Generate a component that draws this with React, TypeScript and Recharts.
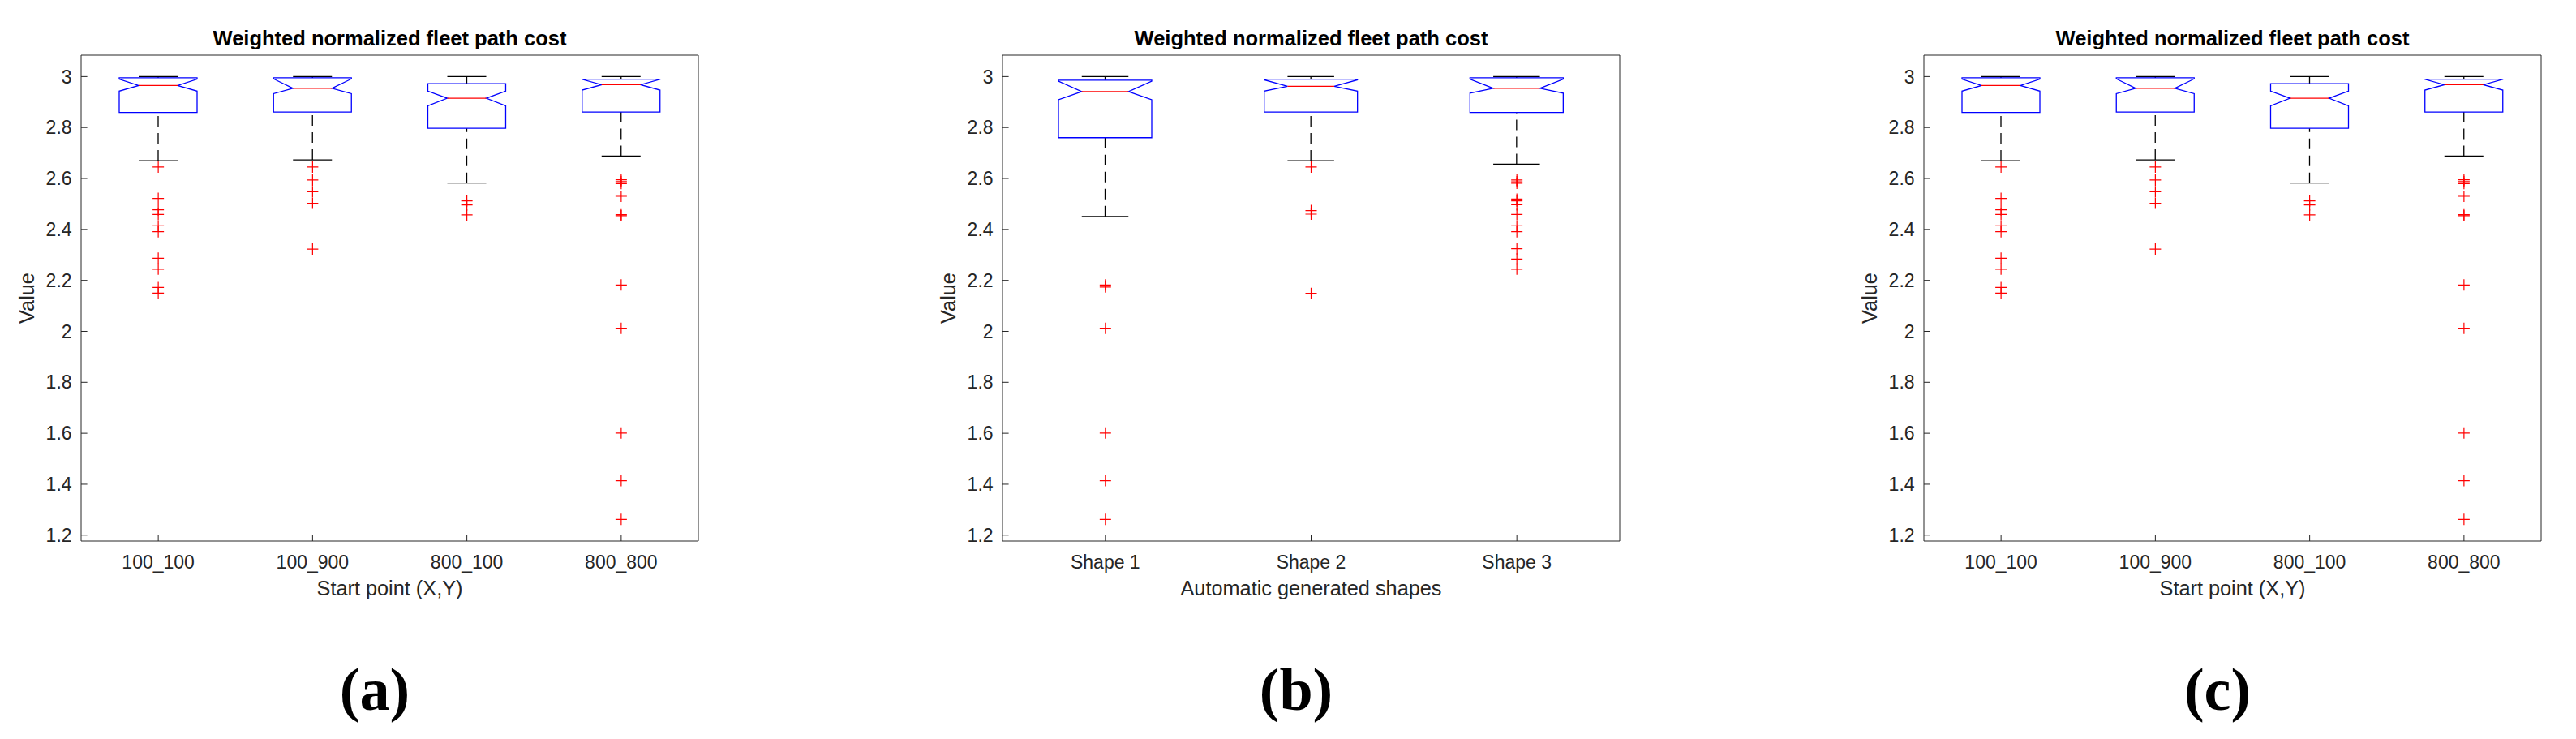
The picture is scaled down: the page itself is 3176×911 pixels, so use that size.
import React from "react";
import { ComposedChart, Bar, Scatter, XAxis, YAxis } from "recharts";

const TITLE = "Weighted normalized fleet path cost";
const Y_LABEL = "Value";
const Y_TICKS = [1.2, 1.4, 1.6, 1.8, 2, 2.2, 2.4, 2.6, 2.8, 3];
const Y_DOMAIN = [1.177, 3.084];

// panels (a) and (c): start point
const START_LABEL = "Start point (X,Y)";
const START_CATS = ["100_100", "100_900", "800_100", "800_800"];
const START_UPPER = [3.0, 3.0, 3.0, 3.0];
const START_Q3 = [2.995, 2.995, 2.972, 2.99];
const START_NOTCH_HI = [2.99, 2.991, 2.943, 2.989];
const START_MEDIAN = [2.965, 2.954, 2.915, 2.968];
const START_NOTCH_LO = [2.943, 2.933, 2.885, 2.947];
const START_Q1 = [2.859, 2.861, 2.797, 2.861];
const START_LOWER = [2.67, 2.673, 2.582, 2.688];
const START_OUTLIERS = [
  [2.645, 2.522, 2.477, 2.459, 2.414, 2.391, 2.287, 2.244, 2.172, 2.15],
  [2.645, 2.594, 2.548, 2.503, 2.323],
  [2.512, 2.496, 2.457],
  [2.595, 2.588, 2.58, 2.53, 2.458, 2.454, 2.182, 2.012, 1.601, 1.414, 1.262],
];

// panel (b): shapes
const SHAPE_LABEL = "Automatic generated shapes";
const SHAPE_CATS = ["Shape 1", "Shape 2", "Shape 3"];
const SHAPE_UPPER = [3.0, 3.0, 3.0];
const SHAPE_Q3 = [2.986, 2.99, 2.995];
const SHAPE_NOTCH_HI = [2.982, 2.987, 2.99];
const SHAPE_MEDIAN = [2.941, 2.962, 2.954];
const SHAPE_NOTCH_LO = [2.909, 2.943, 2.935];
const SHAPE_Q1 = [2.76, 2.861, 2.859];
const SHAPE_LOWER = [2.451, 2.67, 2.656];
const SHAPE_OUTLIERS = [
  [2.182, 2.174, 2.012, 1.601, 1.414, 1.262],
  [2.645, 2.474, 2.46, 2.149],
  [2.594, 2.587, 2.581, 2.519, 2.512, 2.497, 2.459, 2.414, 2.391, 2.324, 2.284, 2.244],
];

const AXIS = "#262626";

function buildBoxes(cats, upper, q3, notchHi, median, notchLo, q1, lower) {
  return cats.map((name, i) => ({
    name,
    upper: upper[i],
    q3: q3[i],
    notchHi: notchHi[i],
    median: median[i],
    notchLo: notchLo[i],
    q1: q1[i],
    lower: lower[i],
  }));
}

function buildOutliers(cats, outliers) {
  return cats.flatMap((name, i) => outliers[i].map((v) => ({ name, v })));
}

const startBoxes = buildBoxes(START_CATS, START_UPPER, START_Q3, START_NOTCH_HI, START_MEDIAN, START_NOTCH_LO, START_Q1, START_LOWER);
const startOutliers = buildOutliers(START_CATS, START_OUTLIERS);
const shapeBoxes = buildBoxes(SHAPE_CATS, SHAPE_UPPER, SHAPE_Q3, SHAPE_NOTCH_HI, SHAPE_MEDIAN, SHAPE_NOTCH_LO, SHAPE_Q1, SHAPE_LOWER);
const shapeOutliers = buildOutliers(SHAPE_CATS, SHAPE_OUTLIERS);

// the bar spans lower..upper whisker; everything else is placed inside that span
function NotchedBox(props: any) {
  const { x, y, width, height, payload } = props;
  if (payload == null || height == null) return null;
  const { upper, q3, notchHi, median, notchLo, q1, lower } = payload;
  const top = Math.min(y, y + height);
  const bot = Math.max(y, y + height);
  const py = (v: number) => top + ((upper - v) / (upper - lower)) * (bot - top);
  const cx = x + width / 2;
  const w = width / 2;
  const n = w / 2;
  const pts = [
    [cx - w, py(q1)],
    [cx - w, py(notchLo)],
    [cx - n, py(median)],
    [cx - w, py(notchHi)],
    [cx - w, py(q3)],
    [cx + w, py(q3)],
    [cx + w, py(notchHi)],
    [cx + n, py(median)],
    [cx + w, py(notchLo)],
    [cx + w, py(q1)],
  ]
    .map((p) => p.join(","))
    .join(" ");
  return (
    <g>
      <line x1={cx} x2={cx} y1={py(lower)} y2={py(q1)} stroke="#000" strokeWidth={1.3} strokeDasharray="13 8" />
      <line x1={cx} x2={cx} y1={py(upper)} y2={py(q3)} stroke="#000" strokeWidth={1.3} strokeDasharray="13 8" />
      <line x1={cx - n} x2={cx + n} y1={py(lower)} y2={py(lower)} stroke="#000" strokeWidth={1.3} />
      <line x1={cx - n} x2={cx + n} y1={py(upper)} y2={py(upper)} stroke="#000" strokeWidth={1.3} />
      <polygon points={pts} fill="none" stroke="#0000ff" strokeWidth={1.3} />
      <line x1={cx - n} x2={cx + n} y1={py(median)} y2={py(median)} stroke="#ff0000" strokeWidth={1.3} />
    </g>
  );
}

function Plus(props: any) {
  const { cx, cy } = props;
  if (cx == null || cy == null) return null;
  return (
    <path
      d={`M${cx - 7},${cy}H${cx + 7}M${cx},${cy - 7}V${cy + 7}`}
      stroke="#ff0000"
      strokeWidth={1.2}
      fill="none"
    />
  );
}

function BoxPanel({ left, boxes, outliers, xLabel, barSize }) {
  return (
    <div style={{ position: "absolute", left, top: 0 }}>
      <ComposedChart
        width={900}
        height={780}
        data={boxes}
        margin={{ top: 67, right: 38, bottom: 33, left: 20 }}
      >
        <XAxis
          xAxisId="b"
          dataKey="name"
          type="category"
          allowDuplicatedCategory={false}
          interval={0}
          height={80}
          tickSize={-7.6}
          tickMargin={25}
          stroke={AXIS}
          tick={{ fontSize: 23, fill: AXIS }}
          label={{ value: xLabel, position: "insideBottom", offset: 13, fontSize: 25.3, fill: AXIS }}
        />
        <XAxis
          xAxisId="t"
          orientation="top"
          dataKey="name"
          type="category"
          allowDuplicatedCategory={false}
          interval={0}
          height={1}
          tick={false}
          tickSize={-7.6}
          stroke={AXIS}
          label={{ value: TITLE, position: "top", offset: 11, fontSize: 25.5, fontWeight: "bold", fill: "#000" }}
        />
        <YAxis
          yAxisId="l"
          type="number"
          domain={Y_DOMAIN}
          ticks={Y_TICKS}
          allowDataOverflow
          width={80}
          tickSize={-7.6}
          tickMargin={19}
          stroke={AXIS}
          tick={{ fontSize: 23, fill: AXIS }}
          tickFormatter={(v) => String(+Number(v).toFixed(1))}
          label={{
            value: Y_LABEL,
            angle: -90,
            position: "insideLeft",
            offset: 13,
            fontSize: 25.3,
            fill: AXIS,
            style: { textAnchor: "middle" },
          }}
        />
        <YAxis
          yAxisId="r"
          orientation="right"
          type="number"
          domain={Y_DOMAIN}
          ticks={Y_TICKS}
          allowDataOverflow
          width={1}
          tick={false}
          tickSize={-7.6}
          stroke={AXIS}
        />
        <Bar
          xAxisId="b"
          yAxisId="l"
          dataKey={(d) => [d.lower, d.upper]}
          barSize={barSize}
          shape={<NotchedBox />}
          isAnimationActive={false}
        />
        <Scatter
          xAxisId="b"
          yAxisId="l"
          data={outliers}
          dataKey="v"
          shape={<Plus />}
          isAnimationActive={false}
        />
      </ComposedChart>
    </div>
  );
}

const LETTERS = ["(a)", "(b)", "(c)"];
const LETTER_X = [462, 1598, 2734];

export default function App() {
  return (
    <div
      style={{
        position: "absolute",
        left: 0,
        top: 0,
        width: 3176,
        height: 911,
        background: "#fff",
        overflow: "hidden",
        fontFamily: "'Liberation Sans', Arial, sans-serif",
      }}
    >
      <BoxPanel left={0} boxes={startBoxes} outliers={startOutliers} xLabel={START_LABEL} barSize={96} />
      <BoxPanel left={1136} boxes={shapeBoxes} outliers={shapeOutliers} xLabel={SHAPE_LABEL} barSize={115} />
      <BoxPanel left={2272} boxes={startBoxes} outliers={startOutliers} xLabel={START_LABEL} barSize={96} />
      <svg width={3176} height={911} style={{ position: "absolute", left: 0, top: 0, pointerEvents: "none" }}>
        {LETTERS.map((t, i) => (
          <text
            key={t}
            x={LETTER_X[i]}
            y={875}
            textAnchor="middle"
            fontFamily="'Liberation Serif', 'Times New Roman', serif"
            fontWeight="bold"
            fontSize={74}
          >
            {t}
          </text>
        ))}
      </svg>
    </div>
  );
}
